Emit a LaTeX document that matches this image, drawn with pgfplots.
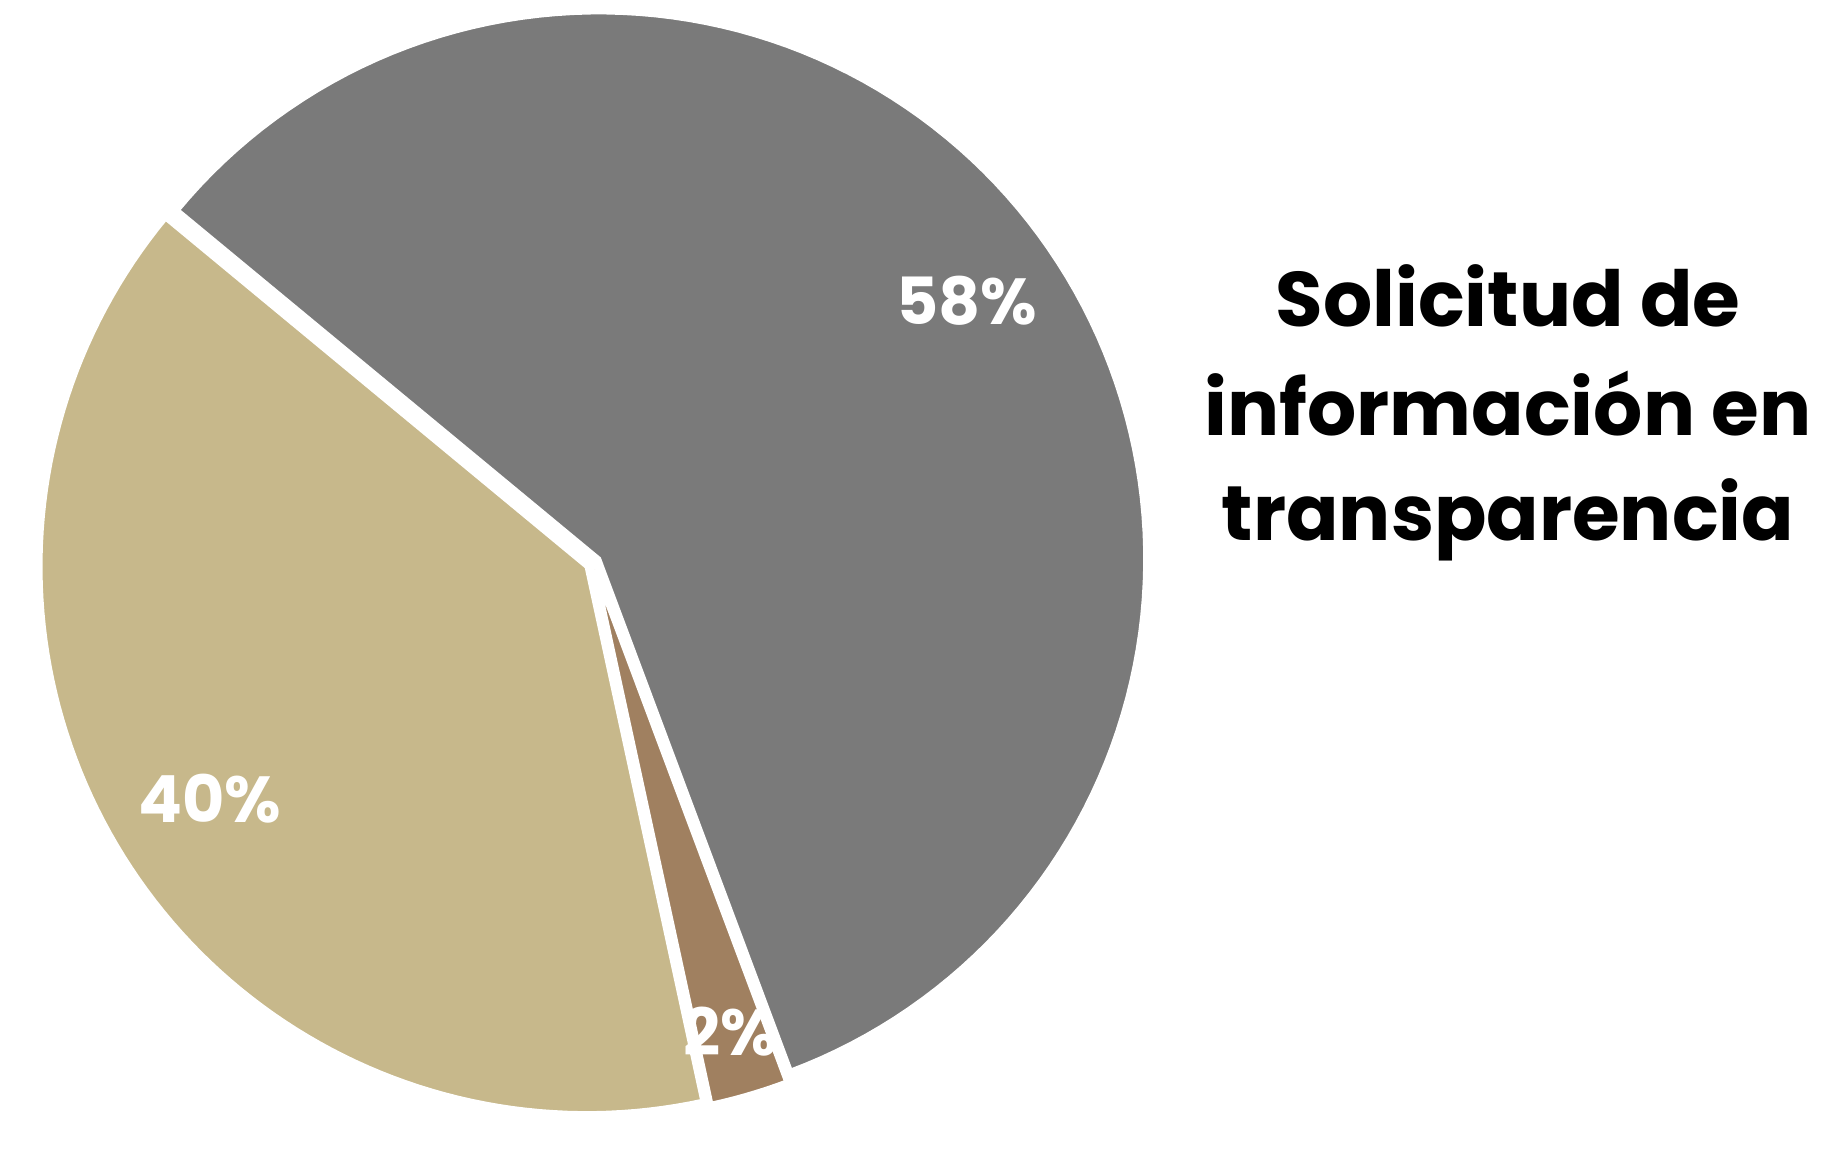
\documentclass[border=0pt]{standalone}
\usepackage{pgfplots}
\usepackage{pgfplotstable}
\usepackage{fontspec}
\setmainfont{Poppins}
\pgfplotsset{compat=1.18}
\definecolor{cgray}{RGB}{122,122,122}
\definecolor{cbeige}{RGB}{199,184,139}
\definecolor{cbrown}{RGB}{160,128,96}
\pgfplotstableread{
share
58.3
2.3
39.4
}\piedata
\begin{document}
\begin{tikzpicture}
\pgfplotstablegetelem{0}{share}\of\piedata \let\va\pgfplotsretval
\pgfplotstablegetelem{1}{share}\of\piedata \let\vb\pgfplotsretval
\pgfplotstablegetelem{2}{share}\of\piedata \let\vc\pgfplotsretval
\def\R{547}\def\cx{593}\def\cy{587}\def\d{7}
\pgfmathsetmacro\aA{140.4}
\pgfmathsetmacro\aB{\aA-\va*3.6}
\pgfmathsetmacro\aC{\aB-\vb*3.6}
\pgfmathsetmacro\aD{\aC-\vc*3.6}
\pgfmathsetmacro\xa{\cx+\d*cos((\aA+\aB)/2)}\pgfmathsetmacro\ya{\cy+\d*sin((\aA+\aB)/2)}
\pgfmathsetmacro\xb{\cx+\d*cos((\aB+\aC)/2)}\pgfmathsetmacro\yb{\cy+\d*sin((\aB+\aC)/2)}
\pgfmathsetmacro\xc{\cx+\d*cos((\aC+\aD)/2)}\pgfmathsetmacro\yc{\cy+\d*sin((\aC+\aD)/2)}
\begin{axis}[
  scale only axis, width=18.39cm, height=11.5cm,
  xmin=0, xmax=1839, ymin=0, ymax=1150,
  hide axis, clip=false]
\path (rel axis cs:0,0) rectangle (rel axis cs:1,1);
\addplot[fill=cgray, draw=white, line width=0.5mm, domain=\aB:\aA, samples=120, variable=\t]
  ({\xa+\R*cos(t)}, {\ya+\R*sin(t)}) -- (axis cs:\xa,\ya) -- cycle;
\addplot[fill=cbrown, draw=white, line width=0.5mm, domain=\aC:\aB, samples=10, variable=\t]
  ({\xb+\R*cos(t)}, {\yb+\R*sin(t)}) -- (axis cs:\xb,\yb) -- cycle;
\addplot[fill=cbeige, draw=white, line width=0.5mm, domain=\aD:\aC, samples=100, variable=\t]
  ({\xc+\R*cos(t)}, {\yc+\R*sin(t)}) -- (axis cs:\xc,\yc) -- cycle;
\node[text=white, font=\fontsize{18.5}{18.5}\selectfont\bfseries] at (axis cs:967,849) {58\%};
\node[text=white, font=\fontsize{18.5}{18.5}\selectfont\bfseries] at (axis cs:210,351) {40\%};
\node[text=white, font=\fontsize{18.5}{18.5}\selectfont\bfseries] at (axis cs:730,118) {2\%};
\node[anchor=base, font=\fontsize{22}{22}\selectfont\bfseries] at (axis cs:1508,823) {Solicitud de};
\node[anchor=base, font=\fontsize{22}{22}\selectfont\bfseries] at (axis cs:1508,714) {información en};
\node[anchor=base, font=\fontsize{22}{22}\selectfont\bfseries] at (axis cs:1508,609) {transparencia};
\end{axis}
\end{tikzpicture}
\end{document}
